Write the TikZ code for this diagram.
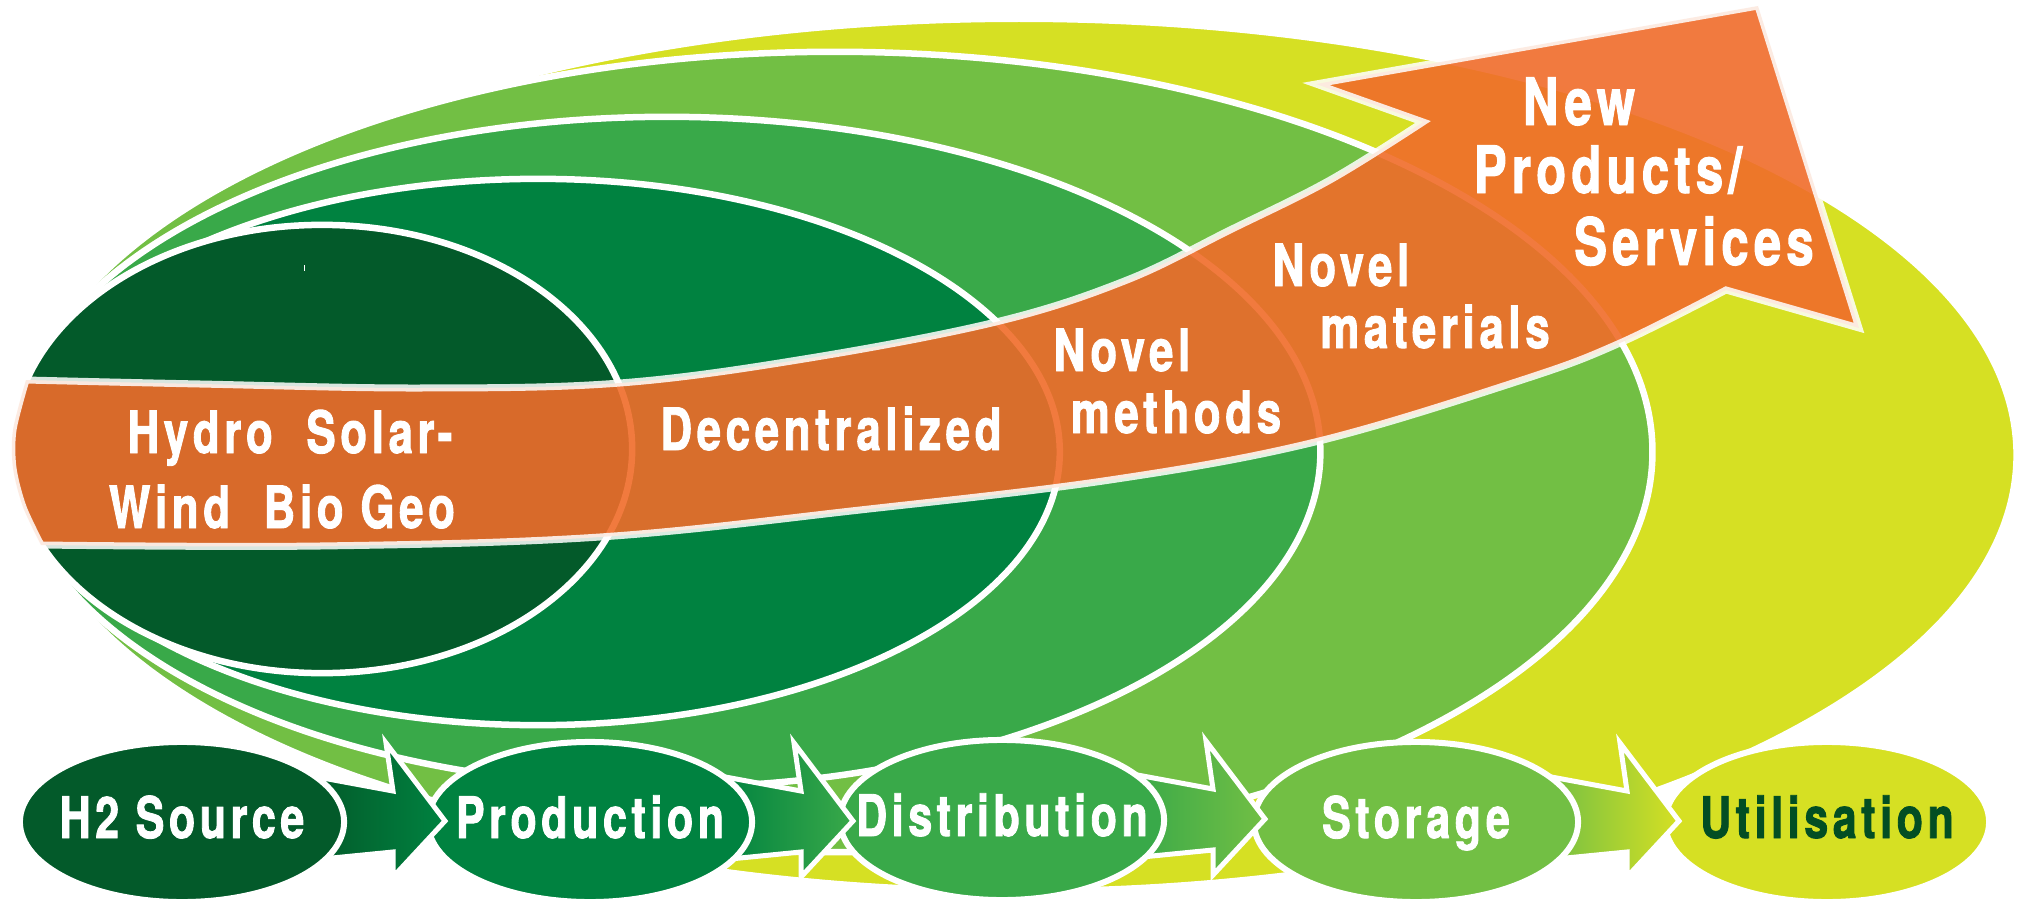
\documentclass[tikz,border=0pt]{standalone}
\usepackage{fontspec}
\usetikzlibrary{shapes.geometric}
\newfontfamily\hfont[FakeStretch=0.75,LetterSpace=8,FakeBold=1.5]{TeX Gyre Heros}
\definecolor{cdark}{RGB}{3,90,42}
\definecolor{cgreen}{RGB}{0,130,64}
\definecolor{cmed}{RGB}{57,169,73}
\definecolor{clight}{RGB}{114,191,68}
\definecolor{cyel}{RGB}{214,224,35}
\definecolor{corange}{RGB}{240,108,42}
\definecolor{ctext}{RGB}{2,78,35}
\begin{document}
\begin{tikzpicture}[x=0.01cm,y=-0.01cm,
  bigell/.style={draw=white, line width=0.065cm},
  band/.style={fill=corange, fill opacity=0.9, draw=white, draw opacity=0.85, line width=0.07cm, line join=miter},
  stage/.style={ellipse, draw=white, line width=0.06cm, minimum width=3.24cm, minimum height=1.6cm,
    inner sep=0pt, text height=0.41cm, text depth=0.09cm, text=white,
    font=\hfont\bfseries\fontsize{16.3}{19}\selectfont},
  flow/.style={draw=white, line width=0.05cm, line join=miter},
  lbl/.style={anchor=base, text=white, inner sep=0pt, font=\hfont\bfseries\fontsize{16.6}{20}\selectfont},
  lblbig/.style={lbl, font=\hfont\bfseries\fontsize{18.6}{22}\selectfont}
]
\useasboundingbox (0,0) rectangle (2020,903);

% nested background ellipses
\path[bigell, fill=cyel]   (1019,455) ellipse [x radius=9.97cm, y radius=4.36cm];
\path[bigell, fill=clight] (835,452)  ellipse [x radius=8.17cm, y radius=4.00cm];
\path[bigell, fill=cmed]   (667,452)  ellipse [x radius=6.53cm, y radius=3.35cm];
\path[bigell, fill=cgreen] (538,452)  ellipse [x radius=5.215cm, y radius=2.73cm];
\path[bigell, fill=cdark]  (322,449)  ellipse [x radius=3.10cm, y radius=2.24cm];
\fill[white] (303.5,265) rectangle (305,271);

% orange arrow band
\path[band] plot[smooth, tension=0.6] coordinates {(26,380) (200,384) (420,388) (620,383) (810,358) (1000,321) (1127,280) (1230,230) (1330,180) (1423,122)}
  -- (1316,84) -- (1758,6) -- (1859,328) -- (1726,290)
  -- plot[smooth, tension=0.6] coordinates {(1726,290) (1620,343) (1522,380) (1315,442) (1110,480) (860,510) (600,537) (320,546) (41,545)}
  -- plot[smooth] coordinates {(41,545) (23,507) (13,468) (13,430) (26,380)} -- cycle;

\node[lbl] (src1) at (290,453) {Hydro\ \ Solar-};
\node[lbl] (src2) at (282,528) {Wind\ \ Bio Geo};
\node[lbl] (dec) at (831,450) {Decentralized};
\node[lbl] (nm1) at (1122,371) {Novel};
\node[lbl] (nm2) at (1176,433) {methods};
\node[lbl] (nt1) at (1341,286) {Novel};
\node[lbl] (nt2) at (1435,348) {materials};
\node[lblbig] (np1) at (1579,125) {New};
\node[lblbig] (np2) at (1608,193) {Products/};
\node[lblbig] (np3) at (1694,265) {Services};

% bottom process row
\coordinate (c1) at (182,822);
\coordinate (c2) at (590,822);
\coordinate (c3) at (1002,820);
\coordinate (c4) at (1416,822);
\coordinate (c5) at (1827,822);

\node[stage, fill=cyel, text=ctext] (util) at (c5) {\makebox[0pt]{Utilisation}};
\path[flow, left color=clight, right color=cyel, shift={(c4)}]
  (130,-46) -- (211,-31) -- (204,-79) -- (263,-1) -- (211,55) -- (211,30) -- (130,38) -- cycle;
\node[stage, fill=clight] (stor) at (c4) {\makebox[0pt]{Storage}};
\path[flow, left color=cmed, right color=clight, shift={(c3)}]
  (130,-46) -- (211,-31) -- (204,-79) -- (263,-1) -- (211,55) -- (211,30) -- (130,38) -- cycle;
\node[stage, fill=cmed] (dist) at (c3) {\makebox[0pt]{Distribution}};
\path[flow, left color=cgreen, right color=cmed, shift={(c2)}]
  (130,-46) -- (211,-31) -- (204,-79) -- (263,-1) -- (211,55) -- (211,30) -- (130,38) -- cycle;
\node[stage, fill=cgreen] (prod) at (c2) {\makebox[0pt]{Production}};
\path[flow, left color=cdark, right color=cgreen, shift={(c1)}]
  (130,-46) -- (211,-31) -- (204,-79) -- (263,-1) -- (211,55) -- (211,30) -- (130,38) -- cycle;
\node[stage, fill=cdark] (h2) at (c1) {\makebox[0pt]{H2 Source}};
\end{tikzpicture}
\end{document}
